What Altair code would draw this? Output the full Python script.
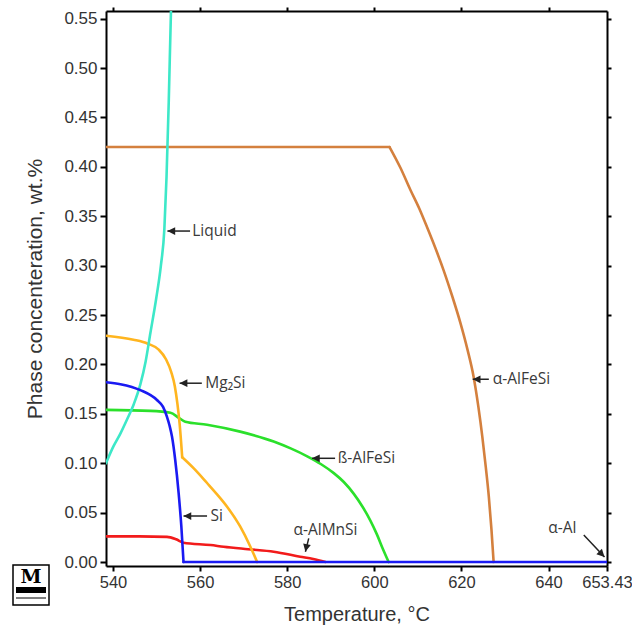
import altair as alt
import pandas as pd

# ---------------- data ----------------
x_ticks = [540, 560, 580, 600, 620, 640, 653.43]
x_top_ticks = [540, 560, 580, 600, 620, 640]
y_ticks = [0.0, 0.05, 0.10, 0.15, 0.20, 0.25, 0.30, 0.35, 0.40, 0.45, 0.50, 0.55]

alfesi_T = [538.4, 603.5, 606.0, 608.3, 610.3, 612.1, 614.0, 615.9, 617.9, 619.8, 621.4, 622.8, 623.9, 624.8, 625.6, 626.3, 626.9, 627.4]
alfesi_wt = [0.420, 0.420, 0.399, 0.3765, 0.358, 0.339, 0.318, 0.2955, 0.269, 0.2416, 0.215, 0.1876, 0.157, 0.127, 0.096, 0.066, 0.033, 0.0]
alfesi_breaks = [1]

bfesi_T = [538.4, 548.6, 553.2, 555.1, 556.6, 561.6, 569.2, 576.9, 580.8, 584.6, 587.8, 590.7, 593.0, 595.3, 597.3, 599.1, 600.6, 601.9, 603.3]
bfesi_wt = [0.154, 0.153, 0.151, 0.146, 0.142, 0.139, 0.132, 0.122, 0.115, 0.107, 0.099, 0.090, 0.081, 0.069, 0.056, 0.042, 0.028, 0.014, 0.0]
bfesi_breaks = []

almnsi_T = [538.4, 546.0, 552.4, 554.5, 556.2, 562.4, 565.4, 571.0, 576.9, 583.0, 586.0, 588.8]
almnsi_wt = [0.026, 0.026, 0.0255, 0.023, 0.0196, 0.0172, 0.0155, 0.013, 0.0105, 0.0054, 0.003, 0.0]
almnsi_breaks = []

mg2si_T = [538.4, 544.7, 548.0, 550.5, 552.2, 553.4, 554.2, 554.8, 555.3, 555.9, 558.5, 561.6, 564.0, 566.2, 569.2, 571.5, 573.1]
mg2si_wt = [0.229, 0.225, 0.221, 0.215, 0.205, 0.192, 0.178, 0.160, 0.140, 0.106, 0.095, 0.080, 0.068, 0.056, 0.036, 0.016, 0.0]
mg2si_breaks = [9]

liquid_T = [538.4, 540.1, 541.7, 543.2, 544.8, 546.3, 547.5, 548.6, 549.9, 551.0, 551.8, 552.3, 552.8, 553.32, 553.5]
liquid_wt = [0.100, 0.117, 0.130, 0.144, 0.160, 0.180, 0.203, 0.232, 0.266, 0.300, 0.337, 0.390, 0.465, 0.558, 0.585]
liquid_breaks = []

si_T = [538.4, 541.7, 546.3, 550.1, 551.5, 552.4, 553.0, 553.55, 554.3, 555.07, 555.7, 556.2, 653.43]
si_wt = [0.182, 0.180, 0.174, 0.164, 0.157, 0.147, 0.138, 0.127, 0.103, 0.070, 0.036, 0.0, 0.0]
si_breaks = [11]

phase_names = ["α-AlFeSi", "ß-AlFeSi", "α-AlMnSi", "Mg2Si", "Liquid", "Si"]
phase_colors = ["#D4803E", "#2BE02B", "#F21B1B", "#FFB51F", "#3DE8C8", "#1A1AF2"]
phase_T = [alfesi_T, bfesi_T, almnsi_T, mg2si_T, liquid_T, si_T]
phase_wt = [alfesi_wt, bfesi_wt, almnsi_wt, mg2si_wt, liquid_wt, si_wt]
phase_breaks = [alfesi_breaks, bfesi_breaks, almnsi_breaks, mg2si_breaks, liquid_breaks, si_breaks]

# annotations (label text, anchor position in data units)
lab_left_text = ["Liquid", "Mg₂Si", "Si", "ß-AlFeSi", "α-AlFeSi"]
lab_left_T = [558.2, 561.2, 562.4, 591.6, 627.2]
lab_left_wt = [0.335, 0.181, 0.0466, 0.105, 0.185]

lab_center_text = ["α-AlMnSi", "α-Al"]
lab_center_T = [588.8, 643.2]
lab_center_wt = [0.0324, 0.0344]

arrow_tail_T = [557.7, 560.4, 561.6, 591.0, 626.3, 584.94, 648.1]
arrow_tail_wt = [0.335, 0.181, 0.0466, 0.105, 0.185, 0.024, 0.0273]
arrow_tip_T = [552.5, 555.3, 556.2, 585.7, 622.6, 584.18, 652.86]
arrow_tip_wt = [0.335, 0.181, 0.0466, 0.105, 0.185, 0.0104, 0.005]
arrow_angle = [0, 0, 0, 0, 0, 282, 226]

# ---------------- build tables ----------------
# each curve is split at its sharp corners into smooth pieces (corner point shared)
rows = []
for name, ts, ws, brk in zip(phase_names, phase_T, phase_wt, phase_breaks):
    cuts = [0] + brk + [len(ts) - 1]
    for s in range(len(cuts) - 1):
        for i in range(cuts[s], cuts[s + 1] + 1):
            rows.append({"phase": name, "seg": s, "T": ts[i], "wt": ws[i], "idx": i})
df = pd.DataFrame(rows)

lab_left = pd.DataFrame({"text": lab_left_text, "T": lab_left_T, "wt": lab_left_wt})
lab_center = pd.DataFrame({"text": lab_center_text, "T": lab_center_T, "wt": lab_center_wt})
arrows = pd.DataFrame({"T1": arrow_tail_T, "wt1": arrow_tail_wt,
                       "T2": arrow_tip_T, "wt2": arrow_tip_wt, "ang": arrow_angle})

x_scale = alt.Scale(domain=[538.4, 653.43], nice=False, zero=False)
y_scale = alt.Scale(domain=[-0.004, 0.5577], nice=False, zero=False)

label_font = "Liberation Sans"
txt_color = "#333333"

x_axis_main = alt.Axis(orient="bottom", values=x_ticks, grid=False,
                       labelExpr="datum.value == 653.43 ? '653.43' : format(datum.value, 'd')",
                       labelFont=label_font, labelFontSize=16.5, labelColor=txt_color,
                       labelPadding=3, labelFlush=False, labelOverlap=False,
                       tickSize=5, tickWidth=2, tickColor="black",
                       domainColor="black", domainWidth=2,
                       titleFont=label_font, titleFontSize=20, titleFontWeight="normal",
                       titleColor=txt_color, titlePadding=14)
y_axis_main = alt.Axis(orient="left", values=y_ticks, format=".2f", grid=False,
                       labelFont=label_font, labelFontSize=17, labelColor=txt_color,
                       labelPadding=3, labelFlush=False, labelOverlap=False,
                       tickSize=6, tickWidth=2, tickColor="black",
                       domainColor="black", domainWidth=2,
                       titleFont=label_font, titleFontSize=21, titleFontWeight="normal",
                       titleColor=txt_color, titlePadding=18)

line_layers = []
for k, (name, color) in enumerate(zip(phase_names, phase_colors)):
    if k == 0:
        xe = alt.X("T:Q", scale=x_scale, title="Temperature, °C", axis=x_axis_main)
        ye = alt.Y("wt:Q", scale=y_scale, title="Phase concenteration, wt.%", axis=y_axis_main)
    else:
        xe = alt.X("T:Q", scale=x_scale, axis=None)
        ye = alt.Y("wt:Q", scale=y_scale, axis=None)
    line_layers.append(
        alt.Chart(df).transform_filter(alt.datum.phase == name)
        .mark_line(strokeWidth=2.6, clip=True, color=color, interpolate="monotone",
                   strokeJoin="round", strokeCap="round")
        .encode(x=xe, y=ye, detail="seg:N", order="idx:Q")
    )

frame = alt.Chart(df).mark_point(opacity=0).encode(
    x=alt.X("T:Q", scale=x_scale, title=None,
            axis=alt.Axis(orient="top", values=x_top_ticks, labels=False, grid=False,
                          tickSize=4, tickWidth=2, tickColor="black",
                          domainColor="black", domainWidth=2)),
    y=alt.Y("wt:Q", scale=y_scale, title=None,
            axis=alt.Axis(orient="right", values=y_ticks, labels=False, grid=False,
                          tickSize=4, tickWidth=2, tickColor="black",
                          domainColor="black", domainWidth=2)),
)

ann_font = "Open Sans"
texts_left = alt.Chart(lab_left).mark_text(align="left", baseline="middle", font=ann_font,
                                            fontSize=15.5, color="#3a3a3a").encode(
    x=alt.X("T:Q", scale=x_scale, axis=None),
    y=alt.Y("wt:Q", scale=y_scale, axis=None),
    text="text:N",
)
texts_center = alt.Chart(lab_center).mark_text(align="center", baseline="middle", font=ann_font,
                                                fontSize=15.5, color="#3a3a3a").encode(
    x=alt.X("T:Q", scale=x_scale, axis=None),
    y=alt.Y("wt:Q", scale=y_scale, axis=None),
    text="text:N",
)

arrow_lines = alt.Chart(arrows).mark_rule(strokeWidth=1.5, color="#222222").encode(
    x=alt.X("T1:Q", scale=x_scale, axis=None),
    y=alt.Y("wt1:Q", scale=y_scale, axis=None),
    x2="T2:Q",
    y2="wt2:Q",
)
arrow_heads = alt.Chart(arrows).mark_point(
    shape="M0,0L1,-0.5L1,0.5Z", filled=True, size=240, color="#222222", opacity=1, strokeWidth=0
).encode(
    x=alt.X("T2:Q", scale=x_scale, axis=None),
    y=alt.Y("wt2:Q", scale=y_scale, axis=None),
    angle=alt.Angle("ang:Q", scale=None),
)

# small logo at the lower left corner
logo_df = pd.DataFrame({"k": [0]})
logo_box = alt.Chart(logo_df).mark_rect(fill="white", stroke="black", strokeWidth=1.5).encode(
    x=alt.value(-93), x2=alt.value(-57), y=alt.value(554), y2=alt.value(594))
logo_m = alt.Chart(logo_df).mark_text(text="M", font="DejaVu Serif", fontSize=19,
                                      fontWeight="bold", color="black").encode(
    x=alt.value(-75), y=alt.value(566))
logo_band = alt.Chart(logo_df).mark_rect(fill="black").encode(
    x=alt.value(-90), x2=alt.value(-60), y=alt.value(576), y2=alt.value(582))
logo_line = alt.Chart(logo_df).mark_rule(color="black", strokeWidth=1).encode(
    x=alt.value(-90), x2=alt.value(-60), y=alt.value(587))

chart = alt.layer(
    frame, *line_layers, arrow_lines, arrow_heads, texts_left, texts_center,
    logo_box, logo_m, logo_band, logo_line
).resolve_axis(x="independent", y="independent").properties(
    width=501, height=555,
    autosize=alt.AutoSizeParams(type="none"),
    padding={"left": 106, "right": 25, "top": 11, "bottom": 72},
    background="white",
).configure_view(stroke=None)

chart.save("out.html", embed_options={"renderer": "svg", "actions": False})
